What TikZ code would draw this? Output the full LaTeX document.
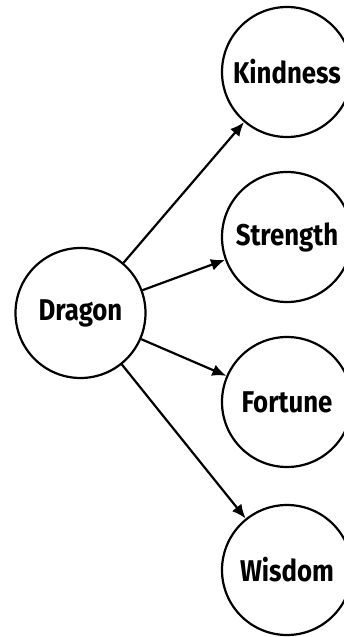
\documentclass[tikz,border=0pt]{standalone}
\usepackage{fontspec}
\setmainfont[FakeStretch=0.86]{Fira Sans}
\usetikzlibrary{arrows.meta}
\tikzset{
  bubble/.style={circle, draw=black, line width=2.2pt, minimum size=130pt, inner sep=0pt,
    font=\fontsize{30}{32}\selectfont\bfseries, fill=white},
  link/.style={line width=2.2pt, -{Latex[length=14pt,width=12pt]}}
}
\begin{document}
\begin{tikzpicture}[x=1pt,y=-1pt]
\useasboundingbox (0,0) rectangle (344,637);
\clip (0,0) rectangle (344,637);
\fill[white] (0,0) rectangle (344,637);
\node[bubble] (dragon) at (80.5,313) {Dragon};
\node[bubble] (kind) at (287,72) {Kindness};
\node[bubble] (str) at (287,237) {Strength};
\node[bubble] (fort) at (287,402) {Fortune};
\node[bubble] (wis) at (287,570) {Wisdom};
\draw[link] (dragon) -- (kind);
\draw[link] (dragon) -- (str);
\draw[link] (dragon) -- (fort);
\draw[link] (dragon) -- (wis);
\end{tikzpicture}
\end{document}
